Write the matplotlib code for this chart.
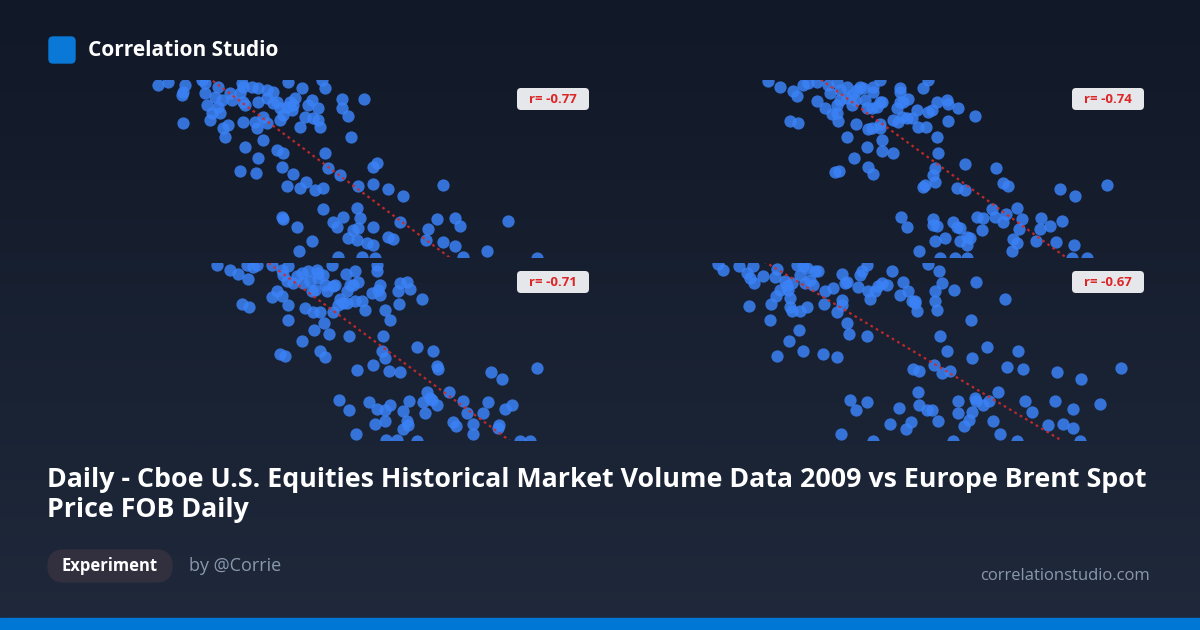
import numpy as np
import matplotlib
matplotlib.use('Agg')
import matplotlib.pyplot as plt
from matplotlib.patches import FancyBboxPatch

plt.rcParams['font.family'] = ['Open Sans', 'DejaVu Sans']

# scatter values per panel (x, y)
x_tl = [55, 85, 135, 125, 130, 185, 195, 195, 235, 225, 245, 200, 235, 215, 240, 210, 130, 265, 250, 255,
        270, 275, 305, 310, 300, 310, 315, 335, 355, 380, 400, 355, 380, 400, 410, 420, 440, 450, 460, 455,
        465, 445, 485, 545, 555, 515, 505, 535, 495, 520, 535, 540, 480, 430, 420, 380, 370, 345, 350, 310,
        370, 315, 355, 410, 430, 300, 348, 425, 460, 555, 565, 605, 605, 625, 672, 632, 700, 710, 600, 655,
        700, 745, 790, 908, 440, 480, 498, 525, 548, 550, 425, 430, 470, 515, 478, 580, 590, 610, 650, 660,
        655, 640, 625, 650, 680, 700, 700, 745, 760, 780, 865, 858, 890, 908, 945, 960, 945, 1040, 1105, 595,
        665, 705, 970, 1190]
y_tl = [30, 22, 30, 60, 50, 15, 25, 55, 35, 65, 75, 90, 95, 115, 115, 135, 145, 150, 160, 185,
        55, 75, 25, 35, 55, 80, 90, 35, 40, 45, 50, 80, 70, 85, 80, 100, 95, 80, 90, 105,
        70, 20, 38, 15, 40, 75, 90, 98, 125, 130, 135, 155, 155, 120, 135, 145, 125, 140, 160, 140,
        195, 215, 250, 225, 233, 287, 293, 277, 297, 233, 280, 72, 98, 122, 72, 187, 275, 265, 300, 332,
        326, 343, 363, 330, 333, 338, 320, 345, 340, 403, 425, 433, 457, 498, 528, 440, 455, 425, 400, 430,
        460, 465, 490, 495, 505, 455, 510, 485, 492, 442, 462, 495, 432, 502, 430, 452, 512, 528, 438, 545,
        545, 548, 545, 550]

x_tr = [205, 240, 280, 290, 310, 325, 350, 385, 390, 410, 420, 440, 455, 470, 480, 490, 520, 520, 540, 350,
        375, 395, 410, 415, 410, 420, 440, 455, 465, 495, 500, 515, 530, 540, 545, 600, 600, 600, 610, 625,
        590, 580, 595, 605, 620, 635, 650, 670, 685, 695, 685, 710, 740, 745, 775, 745, 825, 655, 678, 710,
        270, 295, 440, 468, 505, 515, 540, 540, 545, 500, 545, 580, 462, 505, 518, 405, 418, 715, 705, 700,
        705, 670, 675, 770, 795, 795, 888, 910, 925, 1080, 1125, 1220, 603, 622, 700, 700, 710, 760, 770, 780,
        735, 705, 780, 800, 810, 800, 830, 848, 845, 658, 875, 885, 908, 918, 952, 965, 958, 940, 950, 935,
        1008, 1022, 1020, 1050, 1085, 1068, 1122, 720, 765, 800, 1115, 1160]
y_tr = [18, 35, 48, 62, 30, 25, 20, 30, 55, 20, 45, 35, 60, 45, 35, 40, 35, 50, 15, 78,
        100, 118, 115, 138, 90, 75, 70, 90, 75, 75, 100, 100, 95, 82, 80, 40, 50, 80, 80, 72,
        100, 135, 140, 125, 130, 128, 105, 40, 15, 105, 110, 80, 75, 88, 98, 138, 122, 155, 155, 187,
        138, 145, 185, 148, 162, 160, 147, 160, 195, 217, 227, 233, 250, 275, 296, 292, 288, 233, 280, 300,
        320, 335, 330, 340, 345, 267, 278, 325, 333, 343, 363, 330, 427, 457, 433, 450, 453, 440, 455, 460,
        490, 498, 497, 485, 490, 510, 427, 430, 465, 528, 402, 425, 440, 418, 400, 432, 463, 493, 505, 528,
        497, 430, 463, 452, 438, 500, 510, 548, 548, 550, 550, 548]

x_bl = [50, 90, 115, 145, 140, 160, 170, 215, 245, 250, 260, 265, 280, 290, 305, 310, 325, 330, 350, 355,
        355, 370, 345, 335, 375, 380, 395, 405, 400, 438, 465, 440, 450, 460, 475, 515, 530, 532, 540, 535,
        540, 600, 620, 630, 595, 598, 665, 555, 570, 550, 545, 555, 230, 215, 245, 265, 125, 148, 265, 315,
        340, 360, 400, 415, 430, 440, 465, 485, 495, 420, 372, 343, 388, 448, 307, 360, 375, 240, 255, 470,
        518, 568, 600, 652, 698, 710, 713, 873, 905, 1012, 418, 448, 508, 530, 555, 570, 610, 628, 620, 625,
        610, 525, 555, 468, 675, 668, 680, 690, 695, 712, 748, 788, 800, 820, 818, 760, 768, 865, 850, 893,
        898, 915, 935, 558, 590, 650, 960, 990]
y_bl = [20, 35, 48, 62, 22, 28, 20, 22, 35, 52, 68, 25, 75, 55, 45, 75, 38, 68, 35, 45,
        60, 50, 95, 100, 80, 100, 20, 82, 85, 48, 38, 100, 82, 80, 72, 105, 20, 40, 80, 95,
        110, 75, 72, 92, 100, 138, 122, 156, 187, 233, 278, 300, 100, 118, 115, 140, 138, 147, 185, 150,
        162, 162, 162, 140, 135, 135, 128, 130, 155, 122, 195, 217, 228, 233, 250, 278, 297, 288, 293, 335,
        320, 340, 343, 267, 278, 325, 333, 343, 363, 330, 427, 457, 433, 452, 455, 442, 460, 428, 490, 500,
        512, 498, 490, 528, 465, 432, 402, 420, 425, 440, 402, 430, 465, 498, 528, 492, 505, 432, 465, 510,
        500, 452, 440, 545, 545, 548, 548, 550]

x_br = [55, 70, 118, 140, 150, 160, 162, 190, 225, 230, 255, 260, 265, 275, 290, 300, 310, 320, 315, 330,
        340, 345, 355, 375, 400, 425, 435, 440, 475, 480, 485, 500, 505, 510, 525, 535, 545, 560, 575, 600,
        608, 625, 635, 645, 650, 645, 685, 718, 725, 705, 705, 710, 762, 828, 915, 148, 213, 228, 240, 270,
        270, 275, 300, 320, 373, 425, 425, 412, 210, 298, 268, 310, 232, 370, 410, 440, 448, 500, 720, 813,
        742, 815, 862, 955, 922, 970, 1070, 1143, 1263, 638, 657, 703, 725, 750, 655, 451, 502, 469, 598, 658,
        680, 695, 713, 570, 632, 618, 423, 775, 775, 808, 793, 815, 825, 828, 850, 868, 895, 880, 900, 975,
        995, 1045, 1065, 1088, 1120, 1118, 1200, 520, 760, 950, 1140]
y_br = [18, 35, 25, 45, 60, 25, 75, 55, 58, 32, 68, 85, 95, 75, 20, 52, 25, 30, 75, 65,
        80, 40, 38, 100, 90, 48, 75, 72, 88, 50, 38, 22, 100, 122, 100, 85, 75, 82, 38, 110,
        72, 98, 128, 135, 158, 130, 18, 38, 75, 100, 130, 157, 97, 72, 122, 145, 138, 115, 97, 120,
        148, 160, 160, 148, 138, 125, 140, 162, 185, 217, 250, 278, 293, 288, 296, 195, 228, 235, 233, 187,
        280, 300, 267, 278, 326, 333, 343, 363, 330, 333, 338, 320, 345, 340, 403, 427, 433, 457, 450, 440,
        455, 455, 490, 498, 492, 512, 528, 428, 465, 485, 505, 462, 420, 430, 442, 428, 402, 490, 528, 430,
        463, 500, 430, 497, 452, 510, 438, 548, 548, 550, 550]

r_values = ['-0.77', '-0.74', '-0.71', '-0.67']
# trend line (slope, intercept) per panel
trend_slope = [0.746, 0.726, 0.736, 0.602]
trend_icept = [-145.5, -250.0, -135.9, -105.5]

title = ('Daily - Cboe U.S. Equities Historical Market Volume Data 2009 vs Europe Brent Spot\n'
         'Price FOB Daily')

W, H = 1200, 630
fig = plt.figure(figsize=(12, 6.3), dpi=100)


def px_rect(x, y, w, h):
    return [x / W, 1 - (y + h) / H, w / W, h / H]


# background gradient
bg = fig.add_axes([0, 0, 1, 1])
bg.axis('off')
grad = np.linspace(0, 1, 256).reshape(-1, 1)
top = np.array([17, 24, 39]) / 255
bot = np.array([31, 41, 59]) / 255
img = top + (bot - top) * grad[:, :, None]
bg.imshow(img, aspect='auto', extent=[0, W, H, 0], zorder=0)
bg.set_xlim(0, W)
bg.set_ylim(H, 0)

# bottom blue bar
bg.add_patch(plt.Rectangle((0, 618), W, 12, color='#0077d4', zorder=1))
# logo
bg.add_patch(FancyBboxPatch((49, 37), 26, 26, boxstyle='round,pad=0,rounding_size=4',
                            color='#0a78d6', zorder=2))
bg.text(88, 50, 'Correlation Studio', color='white', fontsize=15, fontweight='bold',
        va='center', ha='left', zorder=3)

bg.text(47, 495, title, color='white', fontsize=19.3, fontweight='bold', va='center', ha='left',
        linespacing=1.2, zorder=3)

bg.add_patch(FancyBboxPatch((48, 550), 124, 32, boxstyle='round,pad=0,rounding_size=16',
                            color='#322f3e', zorder=2))
bg.text(110, 566, 'Experiment', color='white', fontsize=12, fontweight='bold',
        va='center', ha='center', zorder=3)
bg.text(189, 566, 'by @Corrie', color='#8a98ae', fontsize=13, va='center', ha='left', zorder=3)
bg.text(1150, 576, 'correlationstudio.com', color='#8a98ae', fontsize=12, va='center',
        ha='right', zorder=3)

# panels: pixel rect and view limits
panels = [
    (px_rect(48, 79.5, 548, 177.2), (-276, 1368), (545, 13.5)),
    (px_rect(604, 79.5, 548, 177.2), (-288, 1356), (545, 13.5)),
    (px_rect(48, 263, 548, 177), (-456, 1188), (546, 15)),
    (px_rect(604, 263, 548, 177), (-288, 1356), (546, 15)),
]
xs = [x_tl, x_tr, x_bl, x_br]
ys = [y_tl, y_tr, y_bl, y_br]
label_px = [(517, 88), (1072, 88), (517, 271), (1072, 271)]

for i, (rect, xl, yl) in enumerate(panels):
    ax = fig.add_axes(rect)
    ax.patch.set_alpha(0)
    ax.axis('off')
    ax.scatter(xs[i], ys[i], s=78, color='#3b82f6', alpha=0.85, linewidths=0, zorder=2)
    lx = np.array(xl)
    ax.plot(lx, trend_slope[i] * lx + trend_icept[i], color='#d02a2a', lw=1.6,
            ls=(0, (1.2, 1.6)), alpha=0.9, zorder=3)
    ax.set_xlim(*xl)
    ax.set_ylim(*yl)
    bx, by = label_px[i]
    bg.add_patch(FancyBboxPatch((bx, by), 72, 22, boxstyle='round,pad=0,rounding_size=4',
                                fc='#e5e7eb', ec='none', zorder=5))
    bg.text(bx + 36, by + 11.5, 'r= ' + r_values[i], color='#dc2626', fontsize=9.5,
            fontweight='bold', ha='center', va='center', zorder=6)

fig.savefig('out.png', dpi=100)
